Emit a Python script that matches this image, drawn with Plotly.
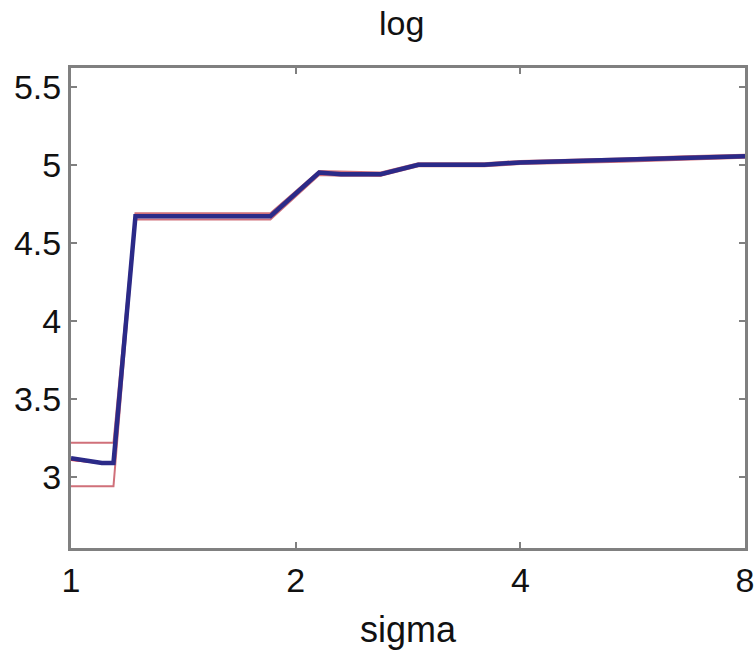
import plotly.graph_objects as go

# Data
sigma = [1.0, 1.1, 1.14, 1.22, 1.85, 2.15, 2.3, 2.6, 2.92, 3.58, 4.0, 5.47, 6.64, 8.0]
mean_blue = [3.12, 3.09, 3.09, 4.67, 4.67, 4.95, 4.94, 4.94, 5.00, 5.00, 5.015, 5.03, 5.045, 5.055]
mean_red = [3.11, 3.09, 3.09, 4.67, 4.67, 4.95, 4.94, 4.935, 5.00, 5.00, 5.015, 5.03, 5.045, 5.055]
upper = [3.22, 3.22, 3.22, 4.69, 4.69, 4.96, 4.955, 4.95, 5.01, 5.01, 5.025, 5.04, 5.055, 5.065]
lower = [2.94, 2.94, 2.94, 4.65, 4.65, 4.935, 4.93, 4.93, 4.99, 4.99, 5.005, 5.02, 5.035, 5.045]

x_ticks = [1, 2, 4, 8]
x_tick_labels = ["1", "2", "4", "8"]
y_ticks = [3, 3.5, 4, 4.5, 5, 5.5]
y_tick_labels = ["3", "3.5", "4", "4.5", "5", "5.5"]

fig = go.Figure()
fig.add_trace(go.Scatter(x=sigma, y=upper, mode="lines",
                         line=dict(color="#d0707a", width=2), showlegend=False))
fig.add_trace(go.Scatter(x=sigma, y=lower, mode="lines",
                         line=dict(color="#d0707a", width=2), showlegend=False))
fig.add_trace(go.Scatter(x=sigma, y=mean_red, mode="lines",
                         line=dict(color="#e8202a", width=2.5), showlegend=False))
fig.add_trace(go.Scatter(x=sigma, y=mean_blue, mode="lines",
                         line=dict(color="#2b2a88", width=4.5), showlegend=False))

font_family = "Liberation Sans, Arial, sans-serif"
fig.update_layout(
    width=755, height=653,
    margin=dict(l=71, r=10, t=68, b=105),
    paper_bgcolor="white", plot_bgcolor="white",
    font=dict(family=font_family, size=34, color="#111111"),
    title=dict(text="log", x=0.532, xanchor="center", y=0.964, yanchor="middle",
               font=dict(size=34, family=font_family, color="#111111")),
    xaxis=dict(type="log", range=[0, 0.90309], tickvals=x_ticks, ticktext=x_tick_labels,
               showgrid=False, zeroline=False, showline=True, linecolor="#808080",
               linewidth=3, mirror="ticks", ticks="inside", ticklen=6, tickcolor="#808080",
               tickwidth=2, automargin=False,
               title=dict(text="sigma", standoff=20, font=dict(size=36))),
    yaxis=dict(range=[2.545, 5.62], tickvals=y_ticks, ticktext=y_tick_labels,
               showgrid=False, zeroline=False, showline=True, linecolor="#808080",
               linewidth=3, mirror="ticks", ticks="inside", ticklen=6, tickcolor="#808080",
               tickwidth=2, automargin=False),
)

fig.write_html("out.html", config={"displayModeBar": False},
               post_script="document.body.style.margin='0';")
